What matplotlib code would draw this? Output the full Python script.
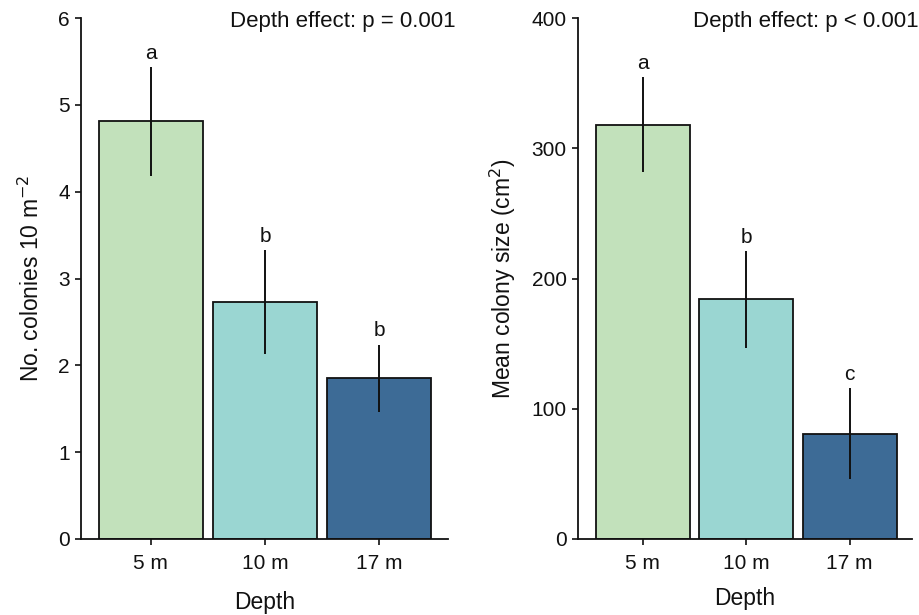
import matplotlib
matplotlib.use('Agg')
import matplotlib.pyplot as plt

plt.rcParams['font.family'] = ['Liberation Sans', 'DejaVu Sans']

depths = ['5 m', '10 m', '17 m']
colors = ['#C2E1BB', '#9AD6D2', '#3D6B96']

density_mean = [4.81, 2.73, 1.85]
density_se = [0.63, 0.60, 0.39]
density_letters = ['a', 'b', 'b']

size_mean = [318, 184, 81]
size_se = [36.5, 37.2, 35.0]
size_letters = ['a', 'b', 'c']

DARK = '#111111'


def draw_panel(ax, means, ses, letters, ylim, yticks, ylabel, ptext, xlim, ylabelpad, xlabelpad):
    x = list(range(1, len(depths) + 1))
    ax.bar(x, means, width=0.91, color=colors, edgecolor=DARK, linewidth=1.3, zorder=2)
    ax.errorbar(x, means, yerr=ses, fmt='none', ecolor=DARK, elinewidth=1.4, capsize=0, zorder=3)
    for xi, m, s, lab in zip(x, means, ses, letters):
        ax.annotate(lab, (xi, m + s), xytext=(0, 3), textcoords='offset points',
                    ha='center', va='bottom', fontsize=15, color=DARK)
    ax.set_xlim(*xlim)
    ax.set_ylim(*ylim)
    ax.set_yticks(yticks)
    ax.set_xticks(x)
    ax.set_xticklabels(depths)
    ax.tick_params(axis='y', labelsize=15, colors=DARK, length=4, width=1.2, pad=4)
    ax.tick_params(axis='x', labelsize=15, colors=DARK, length=4, width=1.2, pad=7)
    ax.set_xlabel('Depth', fontsize=16.5, color=DARK, labelpad=xlabelpad)
    ax.set_ylabel(ylabel, fontsize=16.5, color=DARK, labelpad=ylabelpad)
    ax.spines['top'].set_visible(False)
    ax.spines['right'].set_visible(False)
    ax.spines['left'].set_linewidth(1.3)
    ax.spines['bottom'].set_linewidth(1.3)
    ax.spines['left'].set_color(DARK)
    ax.spines['bottom'].set_color(DARK)
    ax.text(1.02, 0.993, ptext, transform=ax.transAxes, ha='right', va='center',
            fontsize=16, color=DARK)


fig = plt.figure(figsize=(9.2, 6.15), dpi=100)
fig.patch.set_facecolor('#FFFFFF')

ax1 = fig.add_axes([0.088, 0.1236, 0.399, 0.847])
draw_panel(ax1, density_mean, density_se, density_letters, (0, 6), range(0, 7),
           'No. colonies 10 m$^{-2}$', 'Depth effect: p = 0.001', (0.39, 3.6), 10, 13)

ax2 = fig.add_axes([0.628, 0.1236, 0.363, 0.847])
draw_panel(ax2, size_mean, size_se, size_letters, (0, 400), range(0, 401, 100),
           'Mean colony size (cm$^{2}$)', 'Depth effect: p < 0.001', (0.37, 3.6), 10, 10)

fig.savefig('out.png', dpi=100, facecolor='#FFFFFF')
plt.close(fig)
